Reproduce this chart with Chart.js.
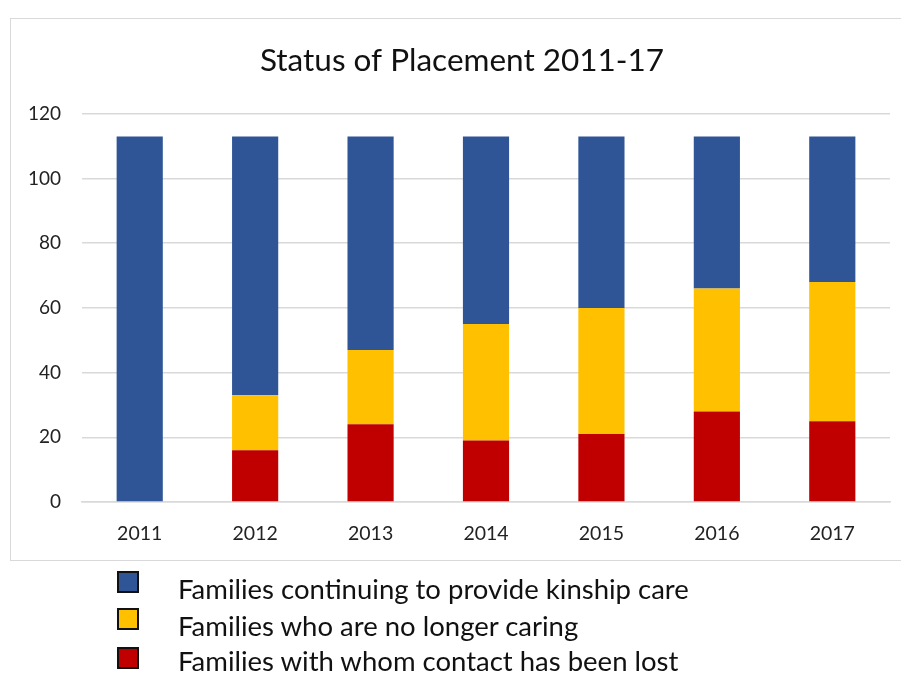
<!DOCTYPE html>
<html>
<head>
<meta charset="utf-8">
<script src="https://cdn.jsdelivr.net/npm/chart.js@4"></script>
<style>
  html, body { margin: 0; padding: 0; background: #fff; }
  #wrap { position: relative; width: 901px; height: 673px; overflow: hidden; }
  #frame { position: absolute; left: 10px; top: 18px; width: 905px; height: 543px; border: 1.5px solid #d9d9d9; box-sizing: border-box; }
  canvas { position: absolute; left: 0; top: 0; }
  .legend { position: absolute; left: 117px; top: 0; font-family: Lato, sans-serif; font-size: 27.5px; color: #111; }
  .legend div { position: absolute; left: 0; white-space: nowrap; }
  .legend span.sw { display: block; position: absolute; left: 0; width: 22px; height: 22px; border: 2px solid #111; box-sizing: border-box; }
  .legend span.tx { display: block; position: absolute; left: 61px; top: 0; line-height: 30px; }
</style>
</head>
<body>
<div id="wrap">
  <div id="frame"></div>
  <canvas id="bar-chart" width="901" height="673"></canvas>
  <div class="legend" id="legend"></div>
</div>
<script>
  const years = ["2011", "2012", "2013", "2014", "2015", "2016", "2017"];
  const lostContact = [0, 16, 24, 19, 21, 28, 25];
  const noLongerCaring = [0, 17, 23, 36, 39, 38, 43];
  const stillCaring = [113, 80, 66, 58, 53, 47, 45];
  const seriesNames = [
    "Families continuing to provide kinship care",
    "Families who are no longer caring",
    "Families with whom contact has been lost",
  ];
  const seriesColors = ["#2f5597", "#ffc000", "#c00000"];

  // row text tops, and swatch tops within each row
  const legendTops = [574, 611, 646];
  const swatchTops = [-3, -3, 1];
  const legend = document.getElementById("legend");
  seriesNames.forEach(function (name, i) {
    const row = document.createElement("div");
    row.style.top = legendTops[i] + "px";
    row.innerHTML = '<span class="sw" style="top:' + swatchTops[i] + 'px;background:' + seriesColors[i] + '"></span><span class="tx">' + name + "</span>";
    legend.appendChild(row);
  });

  // the title sits over the whole frame, not just the plot
  const shiftTitle = {
    id: "shiftTitle",
    afterLayout: function (chart) {
      if (chart.titleBlock) {
        chart.titleBlock.left += 12;
        chart.titleBlock.right += 12;
      }
    },
  };

  new Chart("bar-chart", {
    type: "bar",
    data: {
      labels: years,
      datasets: [
        { label: seriesNames[2], data: lostContact, backgroundColor: seriesColors[2] },
        { label: seriesNames[1], data: noLongerCaring, backgroundColor: seriesColors[1] },
        { label: seriesNames[0], data: stillCaring, backgroundColor: seriesColors[0] },
      ],
    },
    plugins: [shiftTitle],
    options: {
      responsive: false,
      animation: false,
      barPercentage: 0.4,
      categoryPercentage: 1,
      layout: { padding: { left: 10, right: 11, top: 18, bottom: 111 } },
      plugins: {
        legend: { display: false },
        tooltip: { enabled: false },
        title: {
          display: true,
          text: "Status of Placement 2011-17",
          color: "#111",
          font: { family: "Lato", size: 31.5, weight: "normal" },
          padding: { top: 24, bottom: 34 },
        },
      },
      scales: {
        x: {
          stacked: true,
          grid: { display: false, drawTicks: false },
          border: { color: "#d9d9d9", width: 1.5 },
          ticks: { color: "#222", font: { family: "Lato", size: 19.5 }, padding: 20 },
          afterFit: function (scale) { scale.height = 60; },
        },
        y: {
          stacked: true,
          min: 0,
          max: 120,
          ticks: { stepSize: 20, color: "#222", font: { family: "Lato", size: 19 }, padding: 21 },
          grid: { color: "#d9d9d9", lineWidth: 1.5, drawTicks: false },
          border: { display: false },
          afterFit: function (scale) { scale.width = 72; },
        },
      },
    },
  });
</script>
</body>
</html>
